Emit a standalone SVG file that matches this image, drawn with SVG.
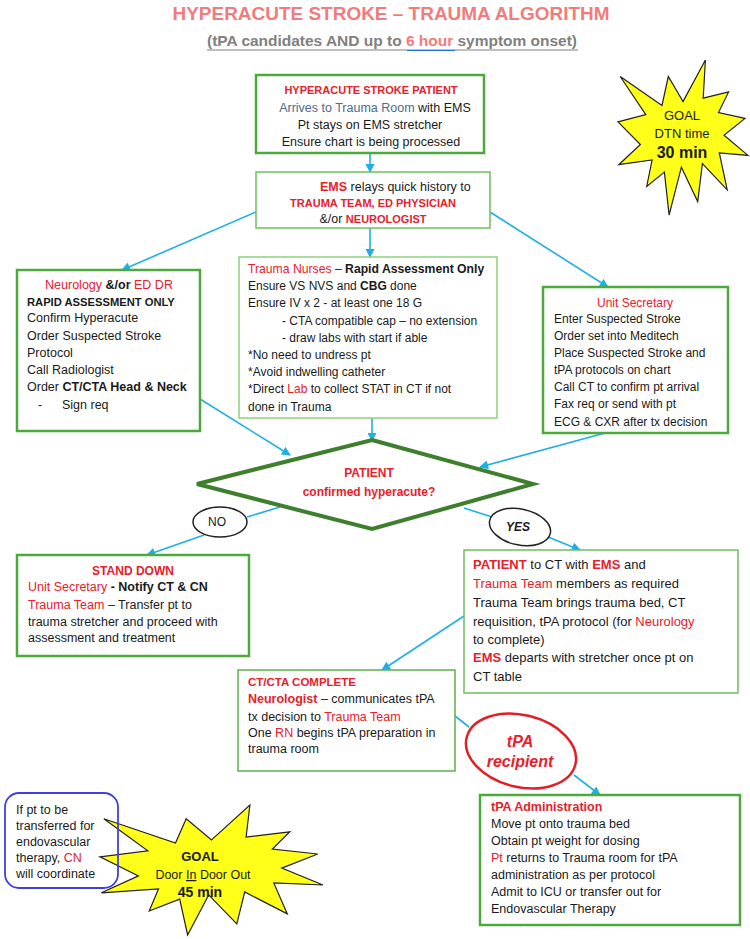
<svg xmlns="http://www.w3.org/2000/svg" width="750" height="939" viewBox="0 0 750 939">
<defs>
<style>
text{font-family:"Liberation Sans",Arial,sans-serif;font-size:12.5px;fill:#1a1a1a}
.m{text-anchor:middle}
.b{font-weight:bold}
.r{fill:#e8202a}
.cap{font-size:11px}
.box{fill:#fff;stroke:#4caa3c;stroke-width:2.5}
.thin{fill:#fff;stroke:#72bd60;stroke-width:1.5}
.con{fill:none;stroke:#1eafe4;stroke-width:1.6}
.star{fill:#ffff1a;stroke:#222;stroke-width:1.2}
</style>
<marker id="ah" viewBox="0 0 10 10" refX="9" refY="5" markerWidth="10" markerHeight="9" markerUnits="userSpaceOnUse" orient="auto">
<path d="M0,0 L10,5 L0,10 z" fill="#1eafe4"/>
</marker>
</defs>
<rect width="750" height="939" fill="#fff"/>

<g id="title">
<text x="391" y="20" class="m b" style="font-size:17.5px;fill:#f27b7b" textLength="437" lengthAdjust="spacingAndGlyphs">HYPERACUTE STROKE – TRAUMA ALGORITHM</text>
<text x="392" y="46" class="m b" style="font-size:14px;fill:#808080" textLength="370" lengthAdjust="spacingAndGlyphs">(tPA candidates AND up to <tspan style="fill:#f27b7b">6 hour</tspan> symptom onset)</text>
<line x1="207" y1="50" x2="578" y2="50" stroke="#808080" stroke-width="1"/>
<line x1="407" y1="50.5" x2="455" y2="50.5" stroke="#2a6fd6" stroke-width="1.2"/>
</g>

<g id="connectors">
<line class="con" x1="370" y1="153" x2="370" y2="172" marker-end="url(#ah)"/>
<line class="con" x1="256" y1="212" x2="122" y2="270" marker-end="url(#ah)"/>
<line class="con" x1="370" y1="228" x2="370" y2="257" marker-end="url(#ah)"/>
<line class="con" x1="490" y1="212" x2="608" y2="287" marker-end="url(#ah)"/>
<line class="con" x1="372" y1="418" x2="372" y2="441" marker-end="url(#ah)"/>
<line class="con" x1="200" y1="399" x2="290" y2="455" marker-end="url(#ah)"/>
<line class="con" x1="605" y1="433" x2="480" y2="467" marker-end="url(#ah)"/>
<line class="con" x1="280" y1="507" x2="247" y2="517"/>
<line class="con" x1="204" y1="535" x2="147" y2="555" marker-end="url(#ah)"/>
<line class="con" x1="464" y1="508" x2="492" y2="517"/>
<line class="con" x1="548" y1="537" x2="580" y2="550" marker-end="url(#ah)"/>
<line class="con" x1="464" y1="616" x2="382" y2="670" marker-end="url(#ah)"/>
<line class="con" x1="455" y1="716" x2="469" y2="727"/>
<line class="con" x1="574" y1="775" x2="600" y2="795" marker-end="url(#ah)"/>
</g>

<g id="arrival">
<rect class="box" x="256" y="75" width="228" height="78"/>
<text x="371" y="94" class="m b r cap">HYPERACUTE STROKE PATIENT</text>
<text x="375" y="111.5" class="m"><tspan style="fill:#4d6b8e">Arrives to Trauma Room</tspan> with EMS</text>
<text x="370" y="128.5" class="m">Pt stays on EMS stretcher</text>
<text x="371" y="146" class="m">Ensure chart is being processed</text>
</g>

<g id="goal-dtn">
<polygon class="star" points="683,101.6 705.4,60 703.2,98.2 728.6,92 718.5,112.5 745,118.4 724,135.2 748,155.4 719.3,152.9 727.2,189.8 702.4,163.7 697.7,201.6 681.4,167.2 669.1,215 664.4,172.1 646.7,186.4 652.1,160 618.8,164.7 640.4,144.5 618,121.8 645.8,114.7 620.2,76.5 662,105.4 668.3,76.5"/>
<text x="682" y="120" class="m" style="font-size:13px">GOAL</text>
<text x="682" y="138" class="m" style="font-size:13px">DTN time</text>
<text x="682" y="158" class="m b" style="font-size:16px">30 min</text>
</g>

<g id="ems-relay">
<rect class="thin" x="256" y="172" width="234" height="56"/>
<text x="320" y="191"><tspan class="r b">EMS</tspan> relays quick history to</text>
<text x="373" y="207" class="m b r cap">TRAUMA TEAM, ED PHYSICIAN</text>
<text x="373" y="223" class="m">&amp;/or <tspan class="r b" style="font-size:11px">NEUROLOGIST</tspan></text>
</g>

<g id="neurology">
<rect class="box" x="17" y="270" width="183" height="161"/>
<text x="109" y="289" class="m"><tspan class="r">Neurology</tspan> <tspan class="b">&amp;/or</tspan> <tspan class="r">ED DR</tspan></text>
<text x="27" y="306" class="b" style="font-size:11.2px">RAPID ASSESSMENT ONLY</text>
<text x="27" y="322">Confirm Hyperacute</text>
<text x="27" y="340">Order Suspected Stroke</text>
<text x="27" y="357">Protocol</text>
<text x="27" y="374">Call Radiologist</text>
<text x="27" y="391">Order <tspan class="b">CT/CTA Head &amp; Neck</tspan></text>
<text x="38" y="409">-</text>
<text x="62" y="409">Sign req</text>
</g>

<g id="trauma-nurses">
<rect x="239" y="257" width="258" height="161" fill="#fff" stroke="#8fd17e" stroke-width="1.5"/>
<text x="248" y="273" style="font-size:12.2px"><tspan class="r">Trauma Nurses</tspan> – <tspan class="b">Rapid Assessment Only</tspan></text>
<text x="248" y="290" style="font-size:12px">Ensure VS NVS and <tspan class="b">CBG</tspan> done</text>
<text x="248" y="307" style="font-size:12px">Ensure IV x 2 - at least one 18 G</text>
<text x="282" y="325" style="font-size:12px">- CTA compatible cap – no extension</text>
<text x="282" y="342" style="font-size:12px">- draw labs with start if able</text>
<text x="248" y="359" style="font-size:12px">*No need to undress pt</text>
<text x="248" y="376" style="font-size:12px">*Avoid indwelling catheter</text>
<text x="248" y="393" style="font-size:12px">*Direct <tspan class="r">Lab</tspan> to collect STAT in CT if not</text>
<text x="248" y="411" style="font-size:12px">done in Trauma</text>
</g>

<g id="unit-secretary">
<rect class="box" x="543" y="287" width="185" height="146"/>
<text x="635" y="307" class="m r" style="font-size:12px">Unit Secretary</text>
<text x="554" y="323" style="font-size:12px">Enter Suspected Stroke</text>
<text x="554" y="340" style="font-size:12px">Order set into Meditech</text>
<text x="554" y="357" style="font-size:12px">Place Suspected Stroke and</text>
<text x="554" y="374" style="font-size:12px">tPA protocols on chart</text>
<text x="554" y="391" style="font-size:12px">Call CT to confirm pt arrival</text>
<text x="554" y="408" style="font-size:12px">Fax req or send with pt</text>
<text x="554" y="426" style="font-size:12px">ECG &amp; CXR after tx decision</text>
</g>

<g id="decision">
<polygon points="372,440 533,484 372,529 197,484" fill="#fff" stroke="#3d7f2c" stroke-width="4" stroke-linejoin="miter"/>
<text x="369" y="477" class="m b r" style="font-size:12px">PATIENT</text>
<text x="369" y="496" class="m b r" style="font-size:12px">confirmed hyperacute?</text>
</g>

<g id="no-label">
<ellipse cx="220" cy="522" rx="27" ry="15" fill="#fff" stroke="#222" stroke-width="1.5"/>
<text x="217" y="526" class="m" style="font-size:12px">NO</text>
</g>

<g id="yes-label">
<ellipse cx="520" cy="527" rx="31" ry="18" fill="#fff" stroke="#222" stroke-width="1.5" transform="rotate(12 520 527)"/>
<text x="518" y="531" class="m b" style="font-size:12px;font-style:italic">YES</text>
</g>

<g id="stand-down">
<rect class="box" x="17" y="555" width="232" height="101"/>
<text x="133" y="575" class="m b r cap" style="font-size:12px">STAND DOWN</text>
<text x="28" y="591"><tspan class="r">Unit Secretary</tspan> <tspan class="b">- Notify CT &amp; CN</tspan></text>
<text x="28" y="609"><tspan class="r">Trauma Team</tspan> – Transfer pt to</text>
<text x="28" y="626">trauma stretcher and proceed with</text>
<text x="28" y="642">assessment and treatment</text>
</g>

<g id="to-ct">
<rect class="thin" x="464" y="550" width="274" height="143"/>
<text x="473" y="569" style="font-size:13px"><tspan class="r b">PATIENT</tspan> to CT with <tspan class="r b">EMS</tspan> and</text>
<text x="473" y="588" style="font-size:13px"><tspan class="r">Trauma Team</tspan> members as required</text>
<text x="473" y="607" style="font-size:13px">Trauma Team brings trauma bed, CT</text>
<text x="473" y="626" style="font-size:13px">requisition, tPA protocol (for <tspan class="r">Neurology</tspan></text>
<text x="473" y="644" style="font-size:13px">to complete)</text>
<text x="473" y="662" style="font-size:13px"><tspan class="r b">EMS</tspan> departs with stretcher once pt on</text>
<text x="473" y="681" style="font-size:13px">CT table</text>
</g>

<g id="ct-complete">
<rect class="thin" x="238" y="670" width="217" height="101" style="stroke:#5fae4d"/>
<text x="248" y="686" class="b r" style="font-size:11.5px">CT/CTA COMPLETE</text>
<text x="248" y="703"><tspan class="r b">Neurologist</tspan> – communicates tPA</text>
<text x="248" y="721">tx decision to <tspan class="r">Trauma Team</tspan></text>
<text x="248" y="737">One <tspan class="r">RN</tspan> begins tPA preparation in</text>
<text x="248" y="753">trauma room</text>
</g>

<g id="tpa-recipient">
<ellipse cx="521" cy="751" rx="56" ry="36" fill="#fff" stroke="#e01f26" stroke-width="2.5" transform="rotate(14 521 751)"/>
<text x="520" y="747" class="m b r" style="font-size:16px;font-style:italic">tPA</text>
<text x="520" y="767" class="m b r" style="font-size:16px;font-style:italic">recipient</text>
</g>

<g id="tpa-admin">
<rect class="box" x="480" y="795" width="260" height="130"/>
<text x="491" y="811" class="r b" style="font-size:12.5px">tPA Administration</text>
<text x="491" y="828">Move pt onto trauma bed</text>
<text x="491" y="845">Obtain pt weight for dosing</text>
<text x="491" y="862"><tspan class="r">Pt</tspan> returns to Trauma room for tPA</text>
<text x="491" y="879">administration as per protocol</text>
<text x="491" y="896">Admit to ICU or transfer out for</text>
<text x="491" y="913">Endovascular Therapy</text>
</g>

<g id="goal-dido">
<polygon class="star" points="211.5,839.9 249.9,805 246.1,837 289.8,831.8 272.4,849 317.8,854 281.8,868.1 323,885 273.8,882.9 287.3,913.9 244.7,892 236.8,923.8 208.7,894.9 187.6,935 179.7,899.1 149.2,911 158.5,888.9 101.4,892.8 138.4,875.9 100,856.8 147.8,850.8 103.8,818.8 175.5,843 186.2,818.8"/>
<text x="200" y="861" class="m b" style="font-size:13px">GOAL</text>
<text x="203" y="879" class="m" style="font-size:12.5px">Door <tspan text-decoration="underline">In</tspan> Door Out</text>
<text x="200" y="897" class="m b" style="font-size:14px">45 min</text>
</g>

<g id="transfer-note">
<rect x="5" y="793" width="113" height="95" rx="14" fill="none" stroke="#4040e0" stroke-width="1.8"/>
<text x="16" y="814">If pt to be</text>
<text x="16" y="830">transferred for</text>
<text x="16" y="846">endovascular</text>
<text x="16" y="862">therapy, <tspan class="r">CN</tspan></text>
<text x="16" y="878">will coordinate</text>
</g>
</svg>
